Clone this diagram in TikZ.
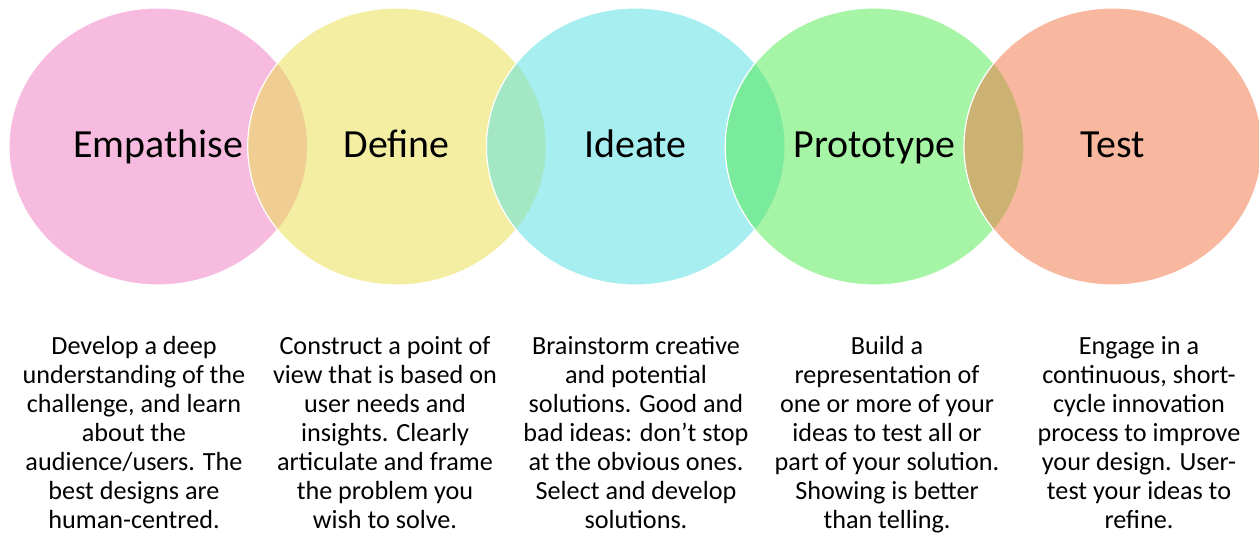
\documentclass[tikz,border=0pt]{standalone}
\usepackage{fontspec}
\setmainfont{Carlito}
\usetikzlibrary{positioning, shapes.geometric}
\definecolor{empfill}{HTML}{F7BBE0}
\definecolor{deffill}{HTML}{F4EEA3}
\definecolor{idefill}{HTML}{A6EEF0}
\definecolor{profill}{HTML}{A6F4A6}
\definecolor{tesfill}{HTML}{F8B8A0}
\definecolor{lensa}{HTML}{F0CD92}
\definecolor{lensb}{HTML}{A3E7C5}
\definecolor{lensc}{HTML}{7AEB9C}
\definecolor{lensd}{HTML}{CBB272}
\tikzset{
  stage/.style = {ellipse, minimum width=5.96cm, minimum height=5.54cm,
                  inner sep=0pt, draw=white, line width=0.6pt,
                  text height=15pt, text depth=2.9pt,
                  font=\fontsize{22.7}{26}\selectfont},
  note/.style  = {anchor=north, align=center, inner sep=0pt,
                  font=\fontsize{14.9}{16.5}\selectfont},
}

\begin{document}
\begin{tikzpicture}
  \useasboundingbox (0,0) rectangle (25.18,10.66);

  % ----- the five stages -----
  \foreach \n/\x/\c/\t in {emp/3.16/empfill/Empathise, def/7.935/deffill/Define,
                           ide/12.71/idefill/Ideate, pro/17.485/profill/Prototype,
                           tes/22.26/tesfill/Test}
     {\node[stage, fill=\c] (\n) at (\x,7.73) {\t};}

  % overlaps between neighbours
  \foreach \a/\b/\c in {emp/def/lensa, def/ide/lensb, ide/pro/lensc, pro/tes/lensd}
     {\begin{scope}
        \clip (\a.center) ellipse [x radius=2.98cm, y radius=2.77cm];
        \filldraw[fill=\c, draw=white, line width=0.6pt]
          (\b.center) ellipse [x radius=2.98cm, y radius=2.77cm];
      \end{scope}}

  % ----- descriptions -----
  \node[note] (empnote) at (2.68,3.94) {Develop a deep\\understanding of the\\challenge, and learn\\about the\\audience/users. The\\best designs are\\human-centred.};
  \node[note] (defnote) at (7.70,3.94) {Construct a point of\\view that is based on\\user needs and\\insights. Clearly\\articulate and frame\\the problem you\\wish to solve.};
  \node[note] (idenote) at (12.72,3.94) {Brainstorm creative\\and potential\\solutions. Good and\\bad ideas: don’t stop\\at the obvious ones.\\Select and develop\\solutions.};
  \node[note] (pronote) at (17.74,3.94) {Build a\\representation of\\one or more of your\\ideas to test all or\\part of your solution.\\Showing is better\\than telling.};
  \node[note] (tesnote) at (22.78,3.94) {Engage in a\\continuous, short-\\cycle innovation\\process to improve\\your design. User-\\test your ideas to\\refine.};

\end{tikzpicture}
\end{document}
